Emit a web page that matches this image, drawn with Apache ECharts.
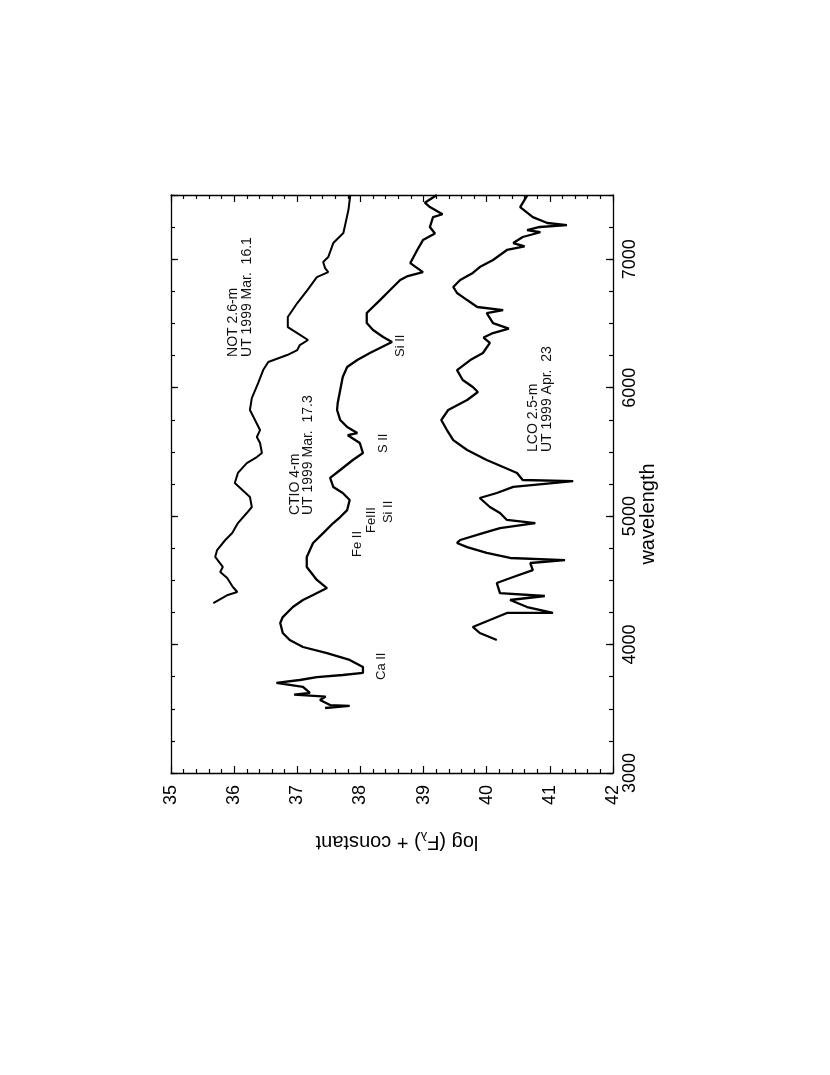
<!DOCTYPE html>
<html>
<head>
<meta charset="utf-8">
<script src="https://cdn.jsdelivr.net/npm/echarts@6/dist/echarts.min.js"></script>
<style>
  html, body { margin: 0; padding: 0; background: #fff; }
  #chart { width: 830px; height: 1075px; }
</style>
</head>
<body>
<div id="chart"></div>
<script>
// spectra: wavelength (A) and log F + constant
const notWave = [7500, 7383, 7204, 7126, 7017, 6978, 6931, 6900, 6861, 6760, 6659, 6550, 6472, 6425, 6371, 6332, 6293, 6254, 6200, 6137, 6036, 5919, 5826, 5748, 5670, 5616, 5569, 5491, 5460, 5413, 5336, 5258, 5203, 5149, 5071, 5024, 4946, 4868, 4814, 4736, 4682, 4604, 4565, 4518, 4448, 4409, 4386, 4323];
const notFlux = [37.84, 37.81, 37.73, 37.57, 37.49, 37.41, 37.44, 37.49, 37.31, 37.16, 37.00, 36.85, 36.85, 37.00, 37.17, 37.04, 37.00, 36.84, 36.54, 36.46, 36.38, 36.28, 36.25, 36.33, 36.41, 36.36, 36.41, 36.44, 36.36, 36.20, 36.06, 36.01, 36.13, 36.25, 36.28, 36.20, 36.06, 35.97, 35.86, 35.73, 35.70, 35.82, 35.78, 35.89, 35.98, 36.05, 35.90, 35.67];

const ctioWave = [7500, 7440, 7406, 7350, 7328, 7251, 7200, 7149, 7072, 6970, 6900, 6869, 6838, 6760, 6682, 6581, 6503, 6449, 6394, 6355, 6316, 6270, 6215, 6161, 6083, 5982, 5880, 5826, 5748, 5694, 5647, 5630, 5569, 5491, 5437, 5359, 5297, 5227, 5180, 5125, 5047, 4993, 4946, 4868, 4791, 4682, 4604, 4503, 4440, 4386, 4347, 4292, 4214, 4168, 4090, 4035, 3981, 3934, 3880, 3825, 3779, 3763, 3747, 3724, 3701, 3670, 3623, 3610, 3595, 3568, 3529, 3522, 3506];
const ctioFlux = [39.21, 39.02, 39.10, 39.30, 39.15, 39.10, 39.18, 38.99, 38.90, 38.79, 38.99, 38.75, 38.63, 38.47, 38.31, 38.10, 38.10, 38.20, 38.36, 38.50, 38.34, 38.15, 37.95, 37.79, 37.72, 37.68, 37.64, 37.63, 37.68, 37.79, 37.95, 37.80, 37.99, 38.04, 37.88, 37.68, 37.52, 37.57, 37.72, 37.83, 37.79, 37.68, 37.57, 37.41, 37.25, 37.15, 37.15, 37.31, 37.47, 37.25, 37.09, 36.93, 36.77, 36.73, 36.77, 36.88, 37.09, 37.47, 37.83, 38.04, 38.04, 37.72, 37.31, 37.04, 36.67, 37.09, 37.20, 36.95, 37.45, 37.36, 37.52, 37.83, 37.44];

const lcoWave = [7495, 7406, 7328, 7282, 7266, 7251, 7227, 7210, 7173, 7126, 7100, 7072, 6994, 6939, 6893, 6838, 6784, 6737, 6682, 6628, 6604, 6581, 6503, 6460, 6425, 6390, 6348, 6270, 6215, 6137, 6060, 6005, 5966, 5904, 5826, 5748, 5670, 5592, 5515, 5437, 5382, 5336, 5281, 5273, 5227, 5180, 5141, 5071, 5024, 4970, 4946, 4907, 4868, 4814, 4791, 4759, 4713, 4674, 4658, 4635, 4580, 4526, 4479, 4401, 4378, 4347, 4292, 4246, 4246, 4191, 4137, 4090, 4035];
const lcoFlux = [40.64, 40.53, 40.73, 40.96, 41.27, 40.84, 40.64, 40.85, 40.57, 40.42, 40.60, 40.32, 40.10, 39.89, 39.78, 39.58, 39.47, 39.53, 39.69, 39.85, 40.26, 40.00, 40.10, 40.35, 40.10, 39.95, 40.05, 39.94, 39.74, 39.53, 39.62, 39.78, 39.86, 39.69, 39.39, 39.28, 39.37, 39.47, 39.69, 40.00, 40.26, 40.48, 40.57, 41.37, 40.42, 40.16, 39.89, 40.05, 40.21, 40.32, 40.77, 40.21, 39.94, 39.58, 39.53, 39.69, 40.00, 40.37, 41.24, 40.69, 40.73, 40.42, 40.16, 40.21, 40.92, 40.37, 40.64, 41.05, 40.32, 40.05, 39.78, 39.89, 40.16];

// text labels inside the plot
const annoText = ["NOT 2.6-m", "UT 1999 Mar.  16.1", "CTIO 4-m", "UT 1999 Mar.  17.3", "LCO 2.5-m", "UT 1999 Apr.  23"];
const annoFlux = [35.98, 36.20, 36.96, 37.17, 40.73, 40.95];
const annoWave = [6239, 6239, 5008, 5008, 5499, 5499];

const ionText = ["Ca II", "Fe II", "FeIII", "Si II", "S II", "Si II"];
const ionFlux = [38.34, 37.95, 38.18, 38.44, 38.36, 38.63];
const ionWave = [3724, 4682, 4868, 4946, 5491, 6239];

const FONT = '"Liberation Sans", Arial, Helvetica, sans-serif';
const INK = "#000";

function pairs(wave, flux) {
  return wave.map((w, i) => [flux[i], w]);
}

function fluxAxis(position, showLabel) {
  return {
    type: "value",
    position,
    min: 35,
    max: 42,
    interval: 1,
    axisLine: { show: true, onZero: false, lineStyle: { color: INK, width: 1.3 } },
    axisTick: { show: true, inside: true, length: 7, lineStyle: { color: INK, width: 1.2 } },
    minorTick: { show: true, splitNumber: 5, length: 4, lineStyle: { color: INK, width: 1.2 } },
    axisLabel: {
      show: showLabel,
      rotate: 90,
      margin: 12,
      color: INK,
      fontSize: 18,
      fontFamily: FONT,
    },
    splitLine: { show: false },
  };
}

function waveAxis(position, interval, tickLen, showLine, showLabel) {
  return {
    type: "value",
    position,
    min: 3000,
    max: 7500,
    interval,
    axisLine: { show: showLine, onZero: false, lineStyle: { color: INK, width: 1.3 } },
    axisTick: { show: true, inside: true, length: tickLen, lineStyle: { color: INK, width: 1.2 } },
    axisLabel: {
      show: showLabel,
      rotate: 90,
      margin: 8,
      showMaxLabel: false,
      color: INK,
      fontSize: 18,
      fontFamily: FONT,
      formatter: (v) => String(v),
    },
    splitLine: { show: false },
  };
}

function spectrum(name, wave, flux, width) {
  return {
    name,
    type: "line",
    xAxisIndex: 0,
    yAxisIndex: 0,
    data: pairs(wave, flux),
    showSymbol: false,
    symbol: "none",
    lineStyle: { color: INK, width },
    z: 3,
  };
}

const chart = echarts.init(document.getElementById("chart"), null, { renderer: "canvas" });

chart.setOption({
  backgroundColor: "#fff",
  animation: false,
  grid: { left: 171, top: 195, width: 442, height: 578, containLabel: false, outerBoundsMode: "none" },
  xAxis: [fluxAxis("bottom", true), fluxAxis("top", false)],
  yAxis: [
    waveAxis("right", 1000, 7, true, true),
    waveAxis("right", 250, 4, false, false),
    waveAxis("left", 1000, 7, true, false),
    waveAxis("left", 250, 4, false, false),
  ],
  series: [
    spectrum("NOT 2.6-m", notWave, notFlux, 2),
    spectrum("CTIO 4-m", ctioWave, ctioFlux, 2.3),
    spectrum("LCO 2.5-m", lcoWave, lcoFlux, 2.3),
  ],
});

function plotText(text, flux, wave, size) {
  const [x, y] = chart.convertToPixel({ xAxisIndex: 0, yAxisIndex: 0 }, [flux, wave]);
  return {
    type: "text",
    x,
    y,
    rotation: Math.PI / 2,
    silent: true,
    style: {
      text,
      fill: "#111",
      fontSize: size,
      fontFamily: FONT,
      textAlign: "left",
      textVerticalAlign: "middle",
      align: "left",
      verticalAlign: "middle",
    },
  };
}

const graphics = [];
annoText.forEach((t, i) => graphics.push(plotText(t, annoFlux[i], annoWave[i], 14)));
ionText.forEach((t, i) => graphics.push(plotText(t, ionFlux[i], ionWave[i], 13)));

// axis titles, both turned like the rest of the page
graphics.push({
  type: "text",
  x: 648,
  y: 514,
  rotation: Math.PI / 2,
  style: {
    text: "wavelength",
    fill: INK,
    fontSize: 20,
    fontFamily: FONT,
    textAlign: "center",
    textVerticalAlign: "middle",
    align: "center",
    verticalAlign: "middle",
  },
});
graphics.push({
  type: "text",
  x: 397,
  y: 842,
  rotation: Math.PI,
  style: {
    text: "{a|log (F}{s|λ}{a|) + constant}",
    fill: INK,
    fontFamily: FONT,
    textAlign: "center",
    textVerticalAlign: "middle",
    align: "center",
    verticalAlign: "middle",
    rich: {
      a: { fontSize: 20, fontFamily: FONT, fill: INK, lineHeight: 26 },
      s: { fontSize: 13, fontFamily: FONT, fill: INK, lineHeight: 14, verticalAlign: "bottom" },
    },
  },
});

chart.setOption({ graphic: graphics });
</script>
</body>
</html>
